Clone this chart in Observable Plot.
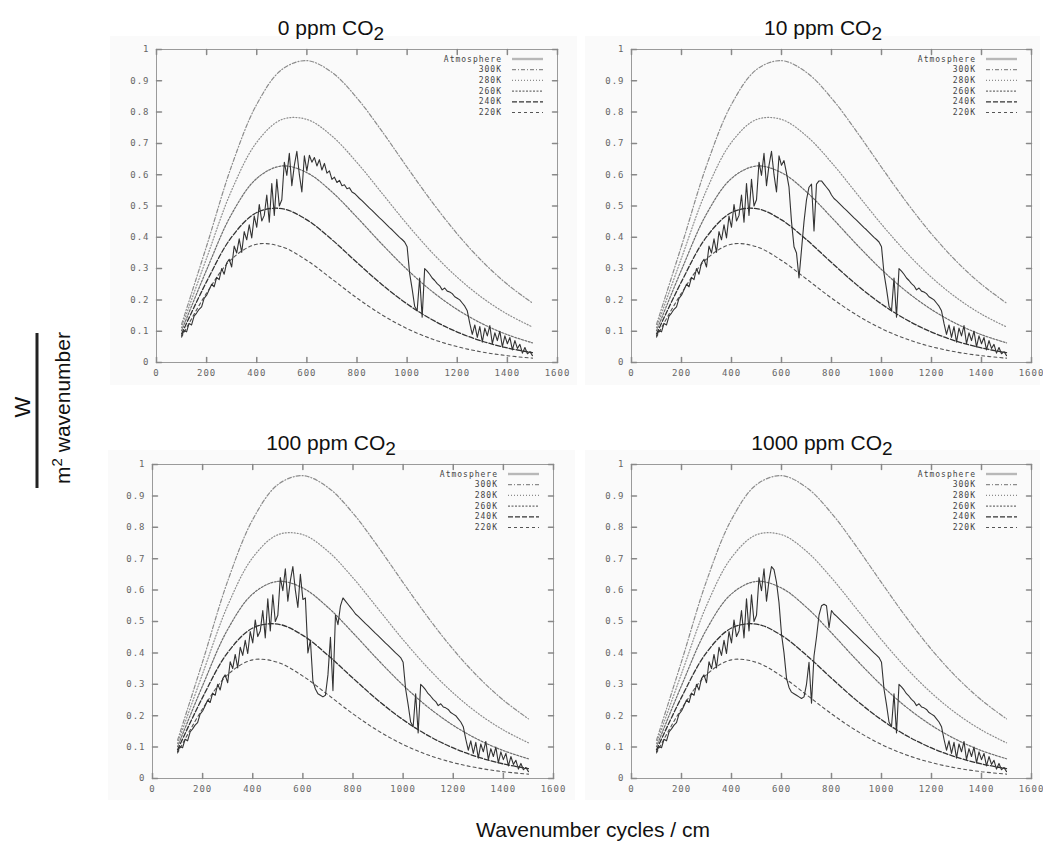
<!DOCTYPE html>
<html>
<head>
<meta charset="utf-8">
<script src="https://cdn.jsdelivr.net/npm/d3@7"></script>
<script src="https://cdn.jsdelivr.net/npm/@observablehq/plot@0.6"></script>
<style>
  body { margin: 0; background: #fff; }
  #root { position: relative; width: 1043px; height: 843px; overflow: hidden; background: #fff; }
  #overlay { position: absolute; left: 0; top: 0; pointer-events: none; }
</style>
</head>
<body>
<div id="root"></div>
<script>
// ---------------- DATA ----------------
// wavenumber grid of the atmosphere spectrum (cm^-1)
const wn = d3.range(100, 1501, 10);

// outgoing spectrum, 0 ppm CO2
const atm0ppm = [
  0.085,0.102,0.098,0.125,0.120,0.148,0.158,0.170,0.178,0.205, // 100-190
  0.215,0.232,0.250,0.242,0.272,0.265,0.300,0.282,0.318,0.330, // 200-290
  0.305,0.372,0.350,0.395,0.352,0.418,0.392,0.440,0.398,0.468, // 300-390
  0.432,0.505,0.452,0.470,0.535,0.448,0.572,0.470,0.585,0.500, // 400-490
  0.520,0.640,0.598,0.668,0.565,0.630,0.675,0.600,0.545,0.660, // 500-590
  0.612,0.662,0.640,0.655,0.628,0.648,0.615,0.636,0.605,0.612, // 600-690
  0.585,0.592,0.575,0.582,0.565,0.568,0.555,0.558,0.545,0.540, // 700-790
  0.532,0.524,0.517,0.509,0.501,0.493,0.486,0.478,0.470,0.462, // 800-890
  0.455,0.447,0.439,0.431,0.424,0.416,0.408,0.400,0.393,0.385, // 900-990
  0.370,0.285,0.235,0.180,0.165,0.270,0.145,0.300,0.292,0.282, // 1000-1090
  0.270,0.262,0.252,0.245,0.232,0.238,0.228,0.225,0.220,0.210, // 1100-1190
  0.205,0.200,0.190,0.180,0.165,0.125,0.090,0.120,0.080,0.115, // 1200-1290
  0.065,0.110,0.085,0.118,0.060,0.095,0.070,0.100,0.050,0.085, // 1300-1390
  0.060,0.080,0.040,0.070,0.045,0.058,0.030,0.048,0.028,0.035, // 1400-1490
  0.022                                                        // 1500
];

// CO2 band (replaces the 0 ppm values from the start wavenumber on)
const co2Band10Start = 600;
const co2Band10 = [0.630,0.645,0.605,0.560,0.450,0.370,0.350,0.270,0.360,0.450,0.520,
                   0.560,0.570,0.420,0.570,0.580,0.580,0.570,0.560,0.550,0.535];
const co2Band100Start = 590;
const co2Band100 = [0.650,0.570,0.575,0.400,0.440,0.310,0.285,0.270,0.265,0.260,0.265,
                    0.330,0.450,0.280,0.520,0.490,0.550,0.575,0.565,0.555,0.545,0.535];
const co2Band1000Start = 570;
const co2Band1000 = [0.665,0.625,0.560,0.460,0.400,0.320,0.290,0.275,0.270,0.265,0.260,0.255,
                     0.260,0.300,0.370,0.240,0.390,0.450,0.520,0.550,0.555,0.550,0.480,0.535];

// blackbody reference curves
const planckWn = [100,200,300,400,500,600,700,800,900,1000,1100,1200,1300,1400,1500];
const t300 = [0.1217,0.3722,0.6287,0.8248,0.9359,0.9644,0.9269,0.8449,0.7384,0.6238,0.5124,0.4109,0.3230,0.2496,0.1899];
const t280 = [0.1115,0.3338,0.5506,0.7037,0.7763,0.7766,0.7237,0.6390,0.5406,0.4418,0.3510,0.2722,0.2068,0.1544,0.1136];
const t260 = [0.1013,0.2959,0.4746,0.5881,0.6278,0.6065,0.5451,0.4637,0.3777,0.2970,0.2269,0.1692,0.1237,0.0888,0.0628];
const t240 = [0.0912,0.2585,0.4011,0.4792,0.4917,0.4558,0.3924,0.3194,0.2488,0.1870,0.1365,0.0973,0.0679,0.0465,0.0314];
const t220 = [0.0811,0.2220,0.3307,0.3779,0.3698,0.3261,0.2667,0.2059,0.1521,0.1083,0.0749,0.0506,0.0334,0.0217,0.0139];

const xTicks = [0,200,400,600,800,1000,1200,1400,1600];
const yTicks = [0,0.1,0.2,0.3,0.4,0.5,0.6,0.7,0.8,0.9,1];
const legendLabels = ["Atmosphere","300K","280K","260K","240K","220K"];
const panelTitles = ["0 ppm CO", "10 ppm CO", "100 ppm CO", "1000 ppm CO"];

// ---------------- STYLES / LAYOUT ----------------
const curveStyle = {
  "Atmosphere": {stroke: "#b8b8b8", width: 2.4, dash: null},
  "300K": {stroke: "#8c8c8c", width: 1.2, dash: "4,2,1,2"},
  "280K": {stroke: "#8c8c8c", width: 1.2, dash: "1,2"},
  "260K": {stroke: "#6e6e6e", width: 1.2, dash: "2,1.5"},
  "240K": {stroke: "#333", width: 1.3, dash: "5,2"},
  "220K": {stroke: "#555", width: 1.1, dash: "3,3"}
};

const layout = [
  {left: 110, top: 36, width: 467, height: 349, ml: 46, mr: 20, mt: 13, mb: 23, tx: 331, ty: 35},
  {left: 585, top: 36, width: 455, height: 349, ml: 46, mr: 9, mt: 13, mb: 23, tx: 823, ty: 35},
  {left: 108, top: 450, width: 467, height: 350, ml: 44, mr: 22, mt: 14, mb: 22, tx: 331, ty: 450},
  {left: 585, top: 450, width: 455, height: 350, ml: 46, mr: 9, mt: 14, mb: 22, tx: 822, ty: 450}
];

// ---------------- BUILD ----------------
function spectrum(band, start) {
  const v = atm0ppm.slice();
  if (band) {
    const i0 = wn.indexOf(start);
    band.forEach((b, k) => { v[i0 + k] = b; });
  }
  return wn.map((w, i) => ({w, v: v[i]}));
}
const spectra = [
  spectrum(null, 0),
  spectrum(co2Band10, co2Band10Start),
  spectrum(co2Band100, co2Band100Start),
  spectrum(co2Band1000, co2Band1000Start)
];
const planckSeries = [["300K", t300], ["280K", t280], ["260K", t260], ["240K", t240], ["220K", t220]]
  .map(([T, vals]) => ({T, data: planckWn.map((w, i) => ({w, v: vals[i]}))}));

const tickShape = {draw(ctx, l) { ctx.moveTo(0, 0); ctx.lineTo(0, -l); }};

function legendMark(index, scales, values, dim) {
  const g = d3.create("svg:g");
  const xr = dim.width - dim.marginRight;
  legendLabels.forEach((lab, i) => {
    const y = dim.marginTop + 10 + i * 10.7;
    const st = curveStyle[lab];
    g.append("text")
      .attr("x", xr - 55).attr("y", y).attr("dy", "0.32em")
      .attr("text-anchor", "end")
      .attr("font-family", "'DejaVu Sans Mono', monospace")
      .attr("font-size", 8).attr("letter-spacing", "1px")
      .attr("fill", "#444")
      .text(lab);
    g.append("line")
      .attr("x1", xr - 45).attr("x2", xr - 14).attr("y1", y).attr("y2", y)
      .attr("stroke", st.stroke).attr("stroke-width", st.width)
      .attr("stroke-dasharray", st.dash);
  });
  return g.node();
}

const root = document.getElementById("root");
layout.forEach((p, k) => {
  const marks = [
    Plot.frame({stroke: "#9a9a9a"}),
    ...planckSeries.map(s => Plot.line(s.data, {
      x: "w", y: "v", curve: "catmull-rom",
      stroke: curveStyle[s.T].stroke, strokeWidth: curveStyle[s.T].width,
      strokeDasharray: curveStyle[s.T].dash
    })),
    Plot.line(spectra[k], {x: "w", y: "v", stroke: "#333", strokeWidth: 1.1}),
    Plot.vector(xTicks, {x: d => d, frameAnchor: "bottom", length: 5, rotate: 0, anchor: "start", shape: tickShape, stroke: "#888"}),
    Plot.vector(xTicks, {x: d => d, frameAnchor: "top", length: 5, rotate: 180, anchor: "start", shape: tickShape, stroke: "#888"}),
    Plot.vector(yTicks, {y: d => d, frameAnchor: "left", length: 5, rotate: 90, anchor: "start", shape: tickShape, stroke: "#888"}),
    Plot.vector(yTicks, {y: d => d, frameAnchor: "right", length: 5, rotate: -90, anchor: "start", shape: tickShape, stroke: "#888"}),
    Plot.axisX({ticks: xTicks, tickSize: 0, tickPadding: 7, label: null, tickFormat: d => String(d)}),
    Plot.axisY({ticks: yTicks, tickSize: 0, tickPadding: 7, label: null, tickFormat: d => String(d)}),
    legendMark
  ];
  const chart = Plot.plot({
    width: p.width, height: p.height,
    marginLeft: p.ml, marginRight: p.mr, marginTop: p.mt, marginBottom: p.mb,
    x: {domain: [0, 1600]},
    y: {domain: [0, 1]},
    style: {background: "#fafafa", fontFamily: "'DejaVu Sans Mono', monospace", fontSize: "9px",
            color: "#666", letterSpacing: "1px", overflow: "visible", maxWidth: "none"},
    marks
  });
  chart.style.position = "absolute";
  chart.style.left = p.left + "px";
  chart.style.top = p.top + "px";
  root.appendChild(chart);
});

// overlay texts: titles and axis labels
const ov = d3.select(root).append("svg").attr("id", "overlay")
  .attr("width", 1043).attr("height", 843)
  .attr("font-family", "'Liberation Sans', Arial, Helvetica, sans-serif").attr("fill", "#111");
layout.forEach((p, k) => {
  const t = ov.append("text").attr("x", p.tx).attr("y", p.ty).attr("text-anchor", "middle").attr("font-size", 21);
  t.append("tspan").text(panelTitles[k]);
  t.append("tspan").attr("dy", 5).attr("font-size", 19).text("2");
});
ov.append("text").attr("x", 593).attr("y", 837).attr("text-anchor", "middle").attr("font-size", 21)
  .text("Wavenumber cycles / cm");
ov.append("text").attr("transform", "translate(30,407) rotate(-90)").attr("text-anchor", "middle")
  .attr("font-size", 22).text("W");
ov.append("rect").attr("x", 35.5).attr("y", 333).attr("width", 3).attr("height", 155).attr("fill", "#222");
const yl = ov.append("text").attr("transform", "translate(70,408) rotate(-90)").attr("text-anchor", "middle")
  .attr("font-size", 21);
yl.append("tspan").text("m");
yl.append("tspan").attr("dy", -8).attr("font-size", 15).text("2");
yl.append("tspan").attr("dy", 8).text(" wavenumber");
</script>
</body>
</html>
